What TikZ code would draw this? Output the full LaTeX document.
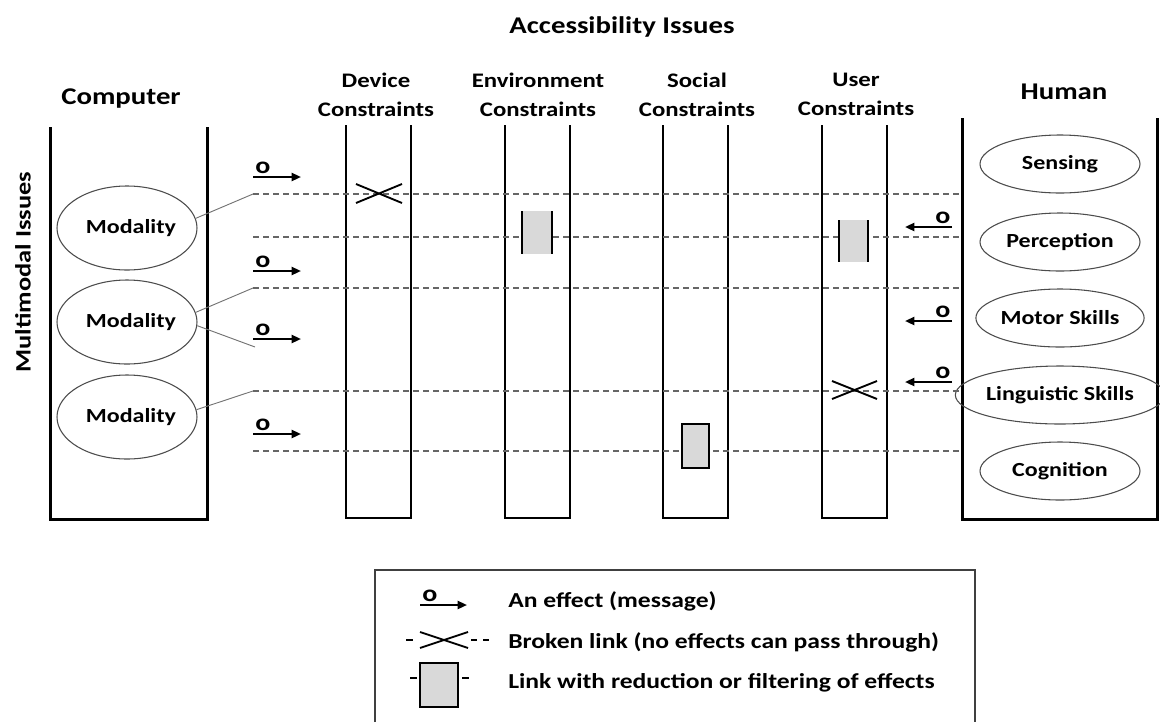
\documentclass[tikz,border=0pt]{standalone}
\usepackage{fontspec}
\setmainfont{Carlito}[FakeStretch=1.2]
\usetikzlibrary{arrows.meta,shapes.geometric}
\begin{document}
\begin{tikzpicture}[x=0.75pt,y=-0.75pt,
 cont/.style={line width=2.25pt},
 col/.style={line width=1.5pt},
 link/.style={draw=black!60, line width=1.1pt, dash pattern=on 4.5pt off 3pt},
 conn/.style={draw=black!55, line width=0.7pt},
 modal/.style={ellipse, draw=black!70, line width=0.8pt, minimum width=105pt, minimum height=63pt, inner sep=0pt, font=\fontsize{15}{18}\selectfont\bfseries},
 skill/.style={ellipse, draw=black!70, line width=0.8pt, minimum width=120pt, minimum height=43.5pt, inner sep=0pt, font=\fontsize{15}{18}\selectfont\bfseries},
 hdr/.style={align=center, font=\fontsize{15.5}{21.75}\selectfont\bfseries, inner sep=0pt},
 big/.style={font=\fontsize{18}{22}\selectfont\bfseries, inner sep=0pt},
 effect/.style={line width=1.6pt, -{Triangle[length=7pt,width=6pt]}},
 olab/.style={font=\fontsize{17.5}{17.5}\selectfont\bfseries, inner sep=0pt},
 xmark/.style={line width=1.4pt},
 filt/.style={fill=black!15},
 legtext/.style={anchor=west, font=\fontsize{16}{19}\selectfont\bfseries, inner sep=0pt}]
\useasboundingbox (0,0) rectangle (1160,722);

% titles
\node[big] (acc) at (622,27) {Accessibility Issues};
\node[big] (comp) at (121,99) {Computer};
\node[big] (hum) at (1064,92) {Human};
\node[hdr] (hdev) at (376,94.5) {Device\\Constraints};
\node[hdr] (henv) at (538,94.5) {Environment\\Constraints};
\node[hdr] (hsoc) at (697,94.5) {Social\\Constraints};
\node[hdr] (husr) at (856,94.5) {User\\Constraints};
\node[big, font=\fontsize{16.5}{20}\selectfont\bfseries, rotate=90] (mmi) at (23,272) {Multimodal Issues};

% containers
\draw[cont] (50,127) -- (50,519) -- (207,519) -- (207,127);
\draw[cont] (962,118) -- (962,519) -- (1157,519) -- (1157,118);
% constraint columns
\draw[col] (346,125) -- (346,518) -- (411,518) -- (411,125);
\draw[col] (505,125) -- (505,518) -- (570,518) -- (570,125);
\draw[col] (663,125) -- (663,518) -- (728,518) -- (728,125);
\draw[col] (822,125) -- (822,518) -- (887,518) -- (887,125);

% ellipses
\node[modal] (m1) at (127,228) {\hspace*{6pt}Modality};
\node[modal] (m2) at (127,322) {\hspace*{6pt}Modality};
\node[modal] (m3) at (127,417) {\hspace*{6pt}Modality};
\node[skill] (s1) at (1060,164) {Sensing};
\node[skill] (s2) at (1060,242) {Perception};
\node[skill] (s3) at (1060,318) {Motor Skills};
\node[skill] (s4) at (1060,395) {Linguistic Skills};
\node[skill] (s5) at (1060,471) {Cognition};

% link lines
\foreach \i/\y in {1/194,2/237,3/288,4/391,5/451}{
  \coordinate (ls\i) at (253,\y);
  \coordinate (le\i) at (962,\y);
  \draw[link] (ls\i) -- (le\i);
}
\coordinate (cfree) at (255,347);
\draw[conn] (m1.8) -- (ls1);
\draw[conn] (m2.8) -- (ls3);
\draw[conn] (m2.-3) -- (cfree);
\draw[conn] (m3.6) -- (ls4);

% right effects
\foreach \i/\y in {1/177,2/271,3/339,4/434}{
  \coordinate (ra\i) at (253,\y);
  \coordinate (rb\i) at (301,\y);
  \draw[effect] (ra\i) -- (rb\i);
  \node[olab] (ro\i) at (263,\y-9) {o};
}
% left effects
\foreach \i/\y in {1/227,2/321,3/382}{
  \coordinate (la\i) at (952,\y);
  \coordinate (lb\i) at (905,\y);
  \draw[effect] (la\i) -- (lb\i);
  \node[olab] (lo\i) at (943,\y-9) {o};
}

% broken links
\draw[xmark] (356,184) -- (402,203) (356,203) -- (402,184);
\draw[xmark] (832,381) -- (877,399) (832,399) -- (877,381);

% filters
\fill[filt] (522,211) rectangle (552,254);
\draw[col] (522,211) -- (522,254) (552,211) -- (552,254);
\fill[filt] (839,220) rectangle (868,262);
\draw[col] (839,220) -- (839,262) (868,220) -- (868,262);
\draw[col, filt] (682,424) rectangle (709,468);

% legend
\draw[line width=0.8pt, black!75] (375,722) -- (375,570) -- (975,570) -- (975,722);
\coordinate (ga) at (420,605);
\coordinate (gb) at (467,605);
\draw[effect] (ga) -- (gb);
\node[olab] (go) at (430,596) {o};
\node[legtext] (t1) at (508,601) {An effect (message)};
\draw[xmark] (420,632) -- (468,648) (420,648) -- (468,632);
\draw[line width=1pt] (406,640) -- (413,640) (471,640) -- (477,640) (483,640) -- (489,640);
\node[legtext] (t2) at (508,642) {Broken link (no effects can pass through)};
\draw[col, filt] (420,663) rectangle (458,707);
\draw[line width=1pt] (410,678) -- (417,678) (462,678) -- (469,678);
\node[legtext] (t3) at (508,683) {Link with reduction or filtering of effects};
\end{tikzpicture}
\end{document}
